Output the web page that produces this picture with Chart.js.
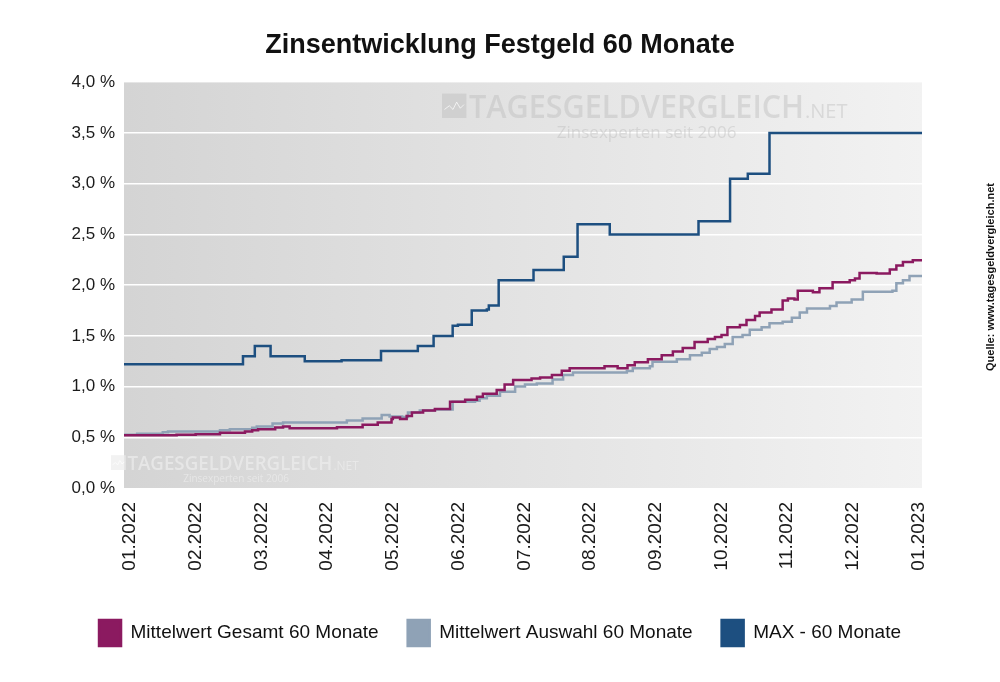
<!DOCTYPE html>
<html lang="de">
<head>
<meta charset="utf-8">
<title>Zinsentwicklung Festgeld 60 Monate</title>
<script src="https://cdn.jsdelivr.net/npm/chart.js@4.4.1/dist/chart.umd.min.js"></script>
<style>
  html, body { margin: 0; padding: 0; background: #fff; }
  #wrap { width: 1000px; height: 682px; }
</style>
</head>
<body>
<div id="wrap"><canvas id="chart" width="1000" height="682"></canvas></div>
<script>
// month labels on the x axis (position 0 = 01.2022, 12 = 01.2023)
const monthLabels = ['01.2022', '02.2022', '03.2022', '04.2022', '05.2022', '06.2022', '07.2022',
  '08.2022', '09.2022', '10.2022', '11.2022', '12.2022', '01.2023'];

// x = month position (fraction of a month), y = interest rate in %
const gesamtX = [-0.09, 0.71, 1.00, 1.37, 1.75, 1.86, 1.95, 2.21, 2.33, 2.43, 3.15, 3.54, 3.77, 3.98, 4.00,
  4.11, 4.21, 4.29, 4.46, 4.64, 4.87, 5.10, 5.28, 5.37, 5.58, 5.70, 5.83, 6.11, 6.24, 6.42, 6.57, 6.69, 7.22,
  7.42, 7.57, 7.68, 7.88, 8.09, 8.26, 8.41, 8.59, 8.79, 8.90, 9.00, 9.09, 9.28, 9.38, 9.51, 9.58, 9.76,
  9.93, 10.01, 10.11, 10.16, 10.39, 10.49, 10.69, 10.95, 11.03, 11.10, 11.36, 11.56, 11.66, 11.76, 11.91, 12.05];
const gesamtY = [0.52, 0.525, 0.53, 0.545, 0.557, 0.57, 0.58, 0.597, 0.606, 0.59, 0.60, 0.623, 0.646, 0.68, 0.695,
  0.68, 0.71, 0.744, 0.764, 0.78, 0.85, 0.87, 0.90, 0.93, 0.967, 1.02, 1.066, 1.08, 1.09, 1.115, 1.157, 1.18, 1.20,
  1.18, 1.21, 1.24, 1.27, 1.31, 1.345, 1.38, 1.44, 1.47, 1.49, 1.51, 1.585, 1.607, 1.656, 1.696, 1.73, 1.76,
  1.85, 1.87, 1.86, 1.945, 1.93, 1.97, 2.03, 2.05, 2.067, 2.12, 2.115, 2.155, 2.195, 2.23, 2.247, 2.25];

const auswahlX = [-0.09, 0.11, 0.50, 0.58, 1.37, 1.52, 1.86, 1.93, 2.17, 2.33, 3.30, 3.54, 3.83, 3.95, 4.14,
  4.23, 4.41, 4.64, 4.91, 5.25, 5.32, 5.43, 5.63, 5.86, 6.01, 6.19, 6.43, 6.59, 6.74, 7.56, 7.65, 7.91, 7.95,
  8.32, 8.52, 8.70, 8.82, 8.93, 9.05, 9.17, 9.32, 9.43, 9.61, 9.73, 9.93, 10.07, 10.19, 10.30, 10.65, 10.75,
  10.98, 11.15, 11.60, 11.66, 11.76, 11.86, 12.05];
const auswahlY = [0.525, 0.534, 0.55, 0.557, 0.57, 0.58, 0.593, 0.606, 0.636, 0.646, 0.665, 0.685, 0.72, 0.705, 0.70,
  0.744, 0.764, 0.775, 0.85, 0.86, 0.886, 0.91, 0.95, 1.0, 1.02, 1.03, 1.07, 1.115, 1.138, 1.155, 1.18, 1.20, 1.245,
  1.27, 1.31, 1.335, 1.37, 1.39, 1.42, 1.49, 1.51, 1.56, 1.585, 1.624, 1.64, 1.68, 1.73, 1.77, 1.795, 1.83,
  1.86, 1.935, 1.945, 2.02, 2.05, 2.09, 2.09];

const maxX = [-0.09, 1.72, 1.90, 2.14, 2.66, 3.22, 3.82, 4.38, 4.62, 4.91, 4.99, 5.20, 5.43, 5.46, 5.61,
  6.14, 6.60, 6.81, 7.30, 8.65, 9.13, 9.40, 9.73, 12.05];
const maxY = [1.22, 1.30, 1.40, 1.30, 1.25, 1.26, 1.35, 1.40, 1.50, 1.60, 1.61, 1.75, 1.76, 1.80, 2.05,
  2.15, 2.28, 2.60, 2.50, 2.63, 3.05, 3.10, 3.50, 3.50];

const toPoints = (xs, ys) => xs.map((x, i) => ({ x: x, y: ys[i] }));

const FONT = "'Liberation Sans', Arial, sans-serif";
const WM_FONT = "'Open Sans', sans-serif";

// plot background (grey gradient), watermarks and source note
const backdrop = {
  id: 'backdrop',
  beforeDraw(chart) {
    const { ctx, chartArea: a } = chart;
    const g = ctx.createLinearGradient(a.left, 0, a.right, 0);
    g.addColorStop(0, '#d4d4d4');
    g.addColorStop(1, '#f2f2f2');
    ctx.save();
    ctx.fillStyle = g;
    ctx.fillRect(a.left, a.top, a.right - a.left, a.bottom - a.top);
    ctx.restore();
  },
  beforeDatasetsDraw(chart) {
    const ctx = chart.ctx;
    const mark = (x, y, size, textWidth, color) => {
      ctx.save();
      const s = size * 0.74;
      ctx.fillStyle = color;
      ctx.fillRect(x, y - s, s, s);
      ctx.strokeStyle = 'rgba(255,255,255,0.7)';
      ctx.lineWidth = 1;
      ctx.beginPath();
      const by = y - s * 0.45;
      ctx.moveTo(x + s * 0.1, by + s * 0.1);
      ctx.lineTo(x + s * 0.3, by - s * 0.05);
      ctx.lineTo(x + s * 0.45, by + s * 0.1);
      ctx.lineTo(x + s * 0.6, by - s * 0.2);
      ctx.lineTo(x + s * 0.75, by + s * 0.05);
      ctx.lineTo(x + s * 0.9, by - s * 0.1);
      ctx.stroke();
      ctx.textBaseline = 'alphabetic';
      const tx = x + s + size * 0.08;
      ctx.font = '600 ' + size + 'px ' + WM_FONT;
      const w = ctx.measureText('TAGESGELDVERGLEICH').width;
      ctx.save();
      ctx.translate(tx, y);
      ctx.scale(textWidth / w, 1);
      ctx.fillText('TAGESGELDVERGLEICH', 0, 0);
      ctx.restore();
      ctx.font = Math.round(size * 0.62) + 'px ' + WM_FONT;
      ctx.fillText('.NET', tx + textWidth + 1, y);
      ctx.font = Math.round(size * 0.5) + 'px ' + WM_FONT;
      ctx.textAlign = 'center';
      ctx.fillText('Zinsexperten seit 2006', tx + textWidth * 0.53, y + size * 0.62);
      ctx.restore();
    };
    mark(442, 118, 33, 335, 'rgba(185,185,185,0.42)');
    mark(111, 470, 20, 205, 'rgba(236,236,236,0.7)');
  },
  afterDraw(chart) {
    const ctx = chart.ctx;
    ctx.save();
    ctx.translate(991, 277);
    ctx.rotate(-Math.PI / 2);
    ctx.textAlign = 'center';
    ctx.textBaseline = 'middle';
    ctx.fillStyle = '#111';
    ctx.font = 'bold 11px ' + FONT;
    ctx.fillText('Quelle: www.tagesgeldvergleich.net', 0, 0);
    ctx.restore();
  }
};

new Chart(document.getElementById('chart'), {
  type: 'line',
  data: {
    datasets: [
      {
        label: 'Mittelwert Gesamt 60 Monate',
        data: toPoints(gesamtX, gesamtY),
        borderColor: '#8b1a60',
        backgroundColor: '#8b1a60',
        borderWidth: 2.5,
        stepped: 'before',
        pointRadius: 0
      },
      {
        label: 'Mittelwert Auswahl 60 Monate',
        data: toPoints(auswahlX, auswahlY),
        borderColor: '#8fa2b6',
        backgroundColor: '#8fa2b6',
        borderWidth: 2.5,
        stepped: 'before',
        pointRadius: 0
      },
      {
        label: 'MAX - 60 Monate',
        data: toPoints(maxX, maxY),
        borderColor: '#1d4f80',
        backgroundColor: '#1d4f80',
        borderWidth: 2.5,
        stepped: 'before',
        pointRadius: 0
      }
    ]
  },
  options: {
    responsive: false,
    animation: false,
    layout: { padding: { left: 0, right: 0, top: 0, bottom: 26 } },
    scales: {
      x: {
        type: 'linear',
        min: -0.09,
        max: 12.05,
        afterBuildTicks: (scale) => { scale.ticks = monthLabels.map((_, i) => ({ value: i })); },
        afterFit: (scale) => { scale.height = 103; },
        grid: { display: false, drawTicks: false },
        border: { display: false },
        ticks: {
          autoSkip: false,
          minRotation: 90,
          maxRotation: 90,
          padding: 14,
          color: '#1a1a1a',
          font: { family: FONT, size: 19 },
          callback: (v) => monthLabels[v]
        }
      },
      y: {
        min: 0,
        max: 4,
        afterFit: (scale) => { scale.width = 124; },
        grid: {
          drawTicks: false,
          lineWidth: 1.5,
          color: (c) => (c.tick && (c.tick.value === 0 || c.tick.value === 4)) ? 'rgba(0,0,0,0)' : '#ffffff'
        },
        border: { display: false },
        ticks: {
          stepSize: 0.5,
          padding: 9,
          color: '#1a1a1a',
          font: { family: FONT, size: 17 },
          callback: (v) => v.toFixed(1).replace('.', ',') + ' %'
        }
      },
      // empty right-hand axis keeps the margin for the source note
      side: {
        position: 'right',
        min: 0,
        max: 4,
        afterFit: (scale) => { scale.width = 78; },
        grid: { display: false, drawTicks: false },
        border: { display: false },
        ticks: { display: false }
      }
    },
    plugins: {
      title: {
        display: true,
        text: 'Zinsentwicklung Festgeld 60 Monate',
        color: '#111',
        font: { family: FONT, size: 27, weight: 'bold' },
        padding: { top: 29, bottom: 21 }
      },
      legend: {
        position: 'bottom',
        labels: {
          boxWidth: 22,
          boxHeight: 26,
          padding: 29,
          color: '#111',
          font: { family: FONT, size: 19 }
        }
      },
      tooltip: { enabled: false }
    }
  },
  plugins: [backdrop]
});
</script>
</body>
</html>
